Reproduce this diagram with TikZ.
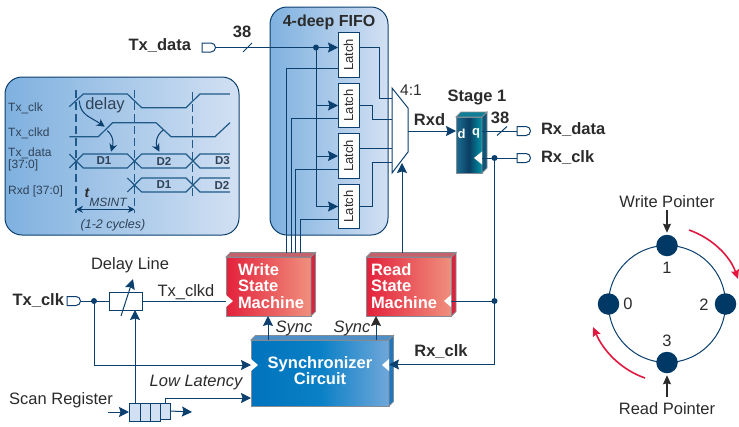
\documentclass[tikz,border=0pt]{standalone}
\usepackage{fontspec}
\setmainfont{Liberation Sans}
\usetikzlibrary{arrows.meta}
\definecolor{navy}{HTML}{0B3F6E}
\definecolor{wave}{HTML}{1F5A88}
\definecolor{ink}{HTML}{2B2B2B}
\definecolor{tink}{HTML}{2E4258}
\definecolor{panelL}{HTML}{7FB1DF}
\definecolor{panelR}{HTML}{D2E0F3}
\definecolor{boxedge}{HTML}{858C94}
\definecolor{fsmL}{HTML}{E3213B}
\definecolor{fsmR}{HTML}{F0907E}
\definecolor{fsmT}{HTML}{C4616A}
\definecolor{fsmS}{HTML}{D8253F}
\definecolor{synL}{HTML}{0073BC}
\definecolor{synM}{HTML}{0A80C6}
\definecolor{synR}{HTML}{70A7DA}
\definecolor{synT}{HTML}{4D8FC8}
\definecolor{synS}{HTML}{1F78BE}
\definecolor{ffL}{HTML}{1B7092}
\definecolor{ffM}{HTML}{0B3E63}
\definecolor{ffR}{HTML}{0093A8}
\definecolor{ffT}{HTML}{0F7F98}
\definecolor{ffS}{HTML}{0F5578}
\definecolor{ringc}{HTML}{003866}
\definecolor{crim}{HTML}{E0183F}
\newcommand{\fs}[1]{\fontsize{#1}{#1}\selectfont}
\tikzset{
  wire/.style={draw=navy,line width=1pt},
  arrw/.style={wire,-{Stealth[length=10pt,width=10pt,inset=1.5pt]}},
  warrw/.style={draw=navy,line width=1pt,{Stealth[length=7pt,width=7pt]}-{Stealth[length=7pt,width=7pt]}},
  txt/.style={inner sep=0pt,outer sep=0pt,text=ink,font=\fs{16.5}},
  btxt/.style={txt,font=\fs{16.5}\bfseries},
  itxt/.style={txt,font=\fs{16.5}\itshape},
  tlabel/.style={inner sep=0pt,text=tink,font=\fs{12},anchor=west},
  dlabel/.style={inner sep=0pt,text=tink,font=\fs{11.5}\bfseries},
  panel/.style={draw=navy,line width=1pt,left color=panelL,right color=panelR,outer sep=0pt,inner sep=0pt},
  latch/.style={draw=navy,line width=1pt,fill=white,minimum width=21pt,minimum height=44.5pt,inner sep=0pt,outer sep=0pt,
     font=\fs{13},text=ink},
  fsm/.style={draw=boxedge,line width=1pt,left color=fsmL,right color=fsmR,minimum width=85pt,minimum height=59pt,
     inner sep=0pt,outer sep=0pt},
  dotn/.style={circle,fill=navy,minimum size=6pt,inner sep=0pt,outer sep=0pt},
  ringdot/.style={circle,fill=ringc,minimum size=21.5pt,inner sep=0pt,outer sep=0pt},
  wave/.style={draw=wave,line width=1.2pt},
  redarr/.style={draw=crim,line width=1.6pt,-{Stealth[length=9pt,width=8pt,inset=1pt]}},
  blkarr/.style={draw=ink,line width=1.1pt,shorten >=2pt,-{Stealth[length=9pt,width=8pt,inset=1pt]}},
  slashl/.style={draw=navy,line width=1pt},
  clkmark/.style={fill=white,draw=none}
}
% a plug-shaped port, with named left and right ends
\newcommand{\port}[3]{%
  \draw[draw=navy,line width=1pt,fill=white] (#2,#3-4.5) -- (#2+9,#3-4.5) arc (90:-90:4.5pt) -- (#2,#3+4.5) -- cycle;
  \coordinate (#1L) at (#2,#3);
  \coordinate (#1R) at (#2+13.5,#3);
}
% top and side faces of a box
\newcommand{\faces}[4]{%
  \fill[#3,draw=boxedge,line width=.8pt] (#1.north west) -- ++(#2,-#2) -- ([shift={(#2,-#2)}]#1.north east) -- (#1.north east) -- cycle;
  \fill[#4,draw=boxedge,line width=.8pt] (#1.north east) -- ++(#2,-#2) -- ([shift={(#2,-#2)}]#1.south east) -- (#1.south east) -- cycle;
}
\begin{document}
\begin{tikzpicture}[x=1pt,y=-1pt]
\useasboundingbox (0,0) rectangle (739,426);

% ---------- timing panel
\node[panel,rounded corners=17pt,minimum width=234pt,minimum height=158pt] (tpanel) at (122,156) {};
\begin{scope}[shift={(0,70)},x=.33333pt,y=-.33333pt]
  \draw[wave,dash pattern=on 8pt off 4pt] (228,60) -- (228,430);
  \draw[wave,dash pattern=on 8pt off 4pt] (404,60) -- (404,430);
  \draw[wave,dash pattern=on 8pt off 4pt] (578,66) -- (578,380);
  \draw[wave] (208,110) -- (250,72) -- (382,72) -- (425,113) -- (558,113) -- (600,72) -- (690,72);
  \draw[wave] (208,200) -- (295,200) -- (338,158) -- (468,158) -- (513,200) -- (645,200) -- (690,158);
  \draw[wave] (208,252) -- (250,294) -- (382,294) -- (425,252) -- (558,252) -- (600,294) -- (690,294);
  \draw[wave] (208,294) -- (250,252) -- (382,252) -- (425,294) -- (558,294) -- (600,252) -- (690,252);
  \draw[wave] (382,324) -- (425,366) -- (558,366) -- (600,324) -- (690,324);
  \draw[wave] (382,366) -- (425,324) -- (558,324) -- (600,366) -- (690,366);
  \draw[draw=navy,line width=1pt,-{Stealth[length=8pt,width=8pt]}] (238,92) .. controls (240,135) and (270,140) .. (314,170);
  \draw[draw=navy,line width=1pt,-{Stealth[length=8pt,width=8pt]}] (322,182) .. controls (342,200) and (340,222) .. (333,245);
  \draw[draw=navy,line width=1pt,-{Stealth[length=8pt,width=8pt]}] (490,180) .. controls (468,195) and (466,222) .. (478,245);
  \coordinate (dimA) at (228,418);
  \coordinate (dimB) at (404,418);
  \draw[warrw] (dimA) -- (dimB);
\end{scope}
\node[tlabel] (l1) at (8,108) {Tx\_clk};
\node[tlabel] (l2) at (8,133) {Tx\_clkd};
\node[tlabel] (l3) at (8,153) {Tx\_data};
\node[tlabel] (l4) at (8,165) {[37:0]};
\node[tlabel] (l5) at (8,191) {Rxd [37:0]};
\node[inner sep=0pt,text=tink,font=\fs{16.5}] (dly) at (105,105.5) {delay};
\node[dlabel] (d1) at (104,161) {D1};
\node[dlabel] (d2) at (164,161) {D2};
\node[dlabel] (d3) at (222.5,161) {D3};
\node[dlabel] (r1) at (164,185) {D1};
\node[dlabel] (r2) at (222,185) {D2};
\node[inner sep=0pt,text=ink,font=\fs{14}\bfseries\itshape] (tt) at (87,193) {t};
\node[inner sep=0pt,text=tink,font=\fs{12}\itshape] (tm) at (108,202) {MSINT};
\node[inner sep=0pt,text=tink,font=\fs{12.5}\itshape] (cyc) at (113,225) {(1-2 cycles)};

% ---------- FIFO
\node[panel,rounded corners=17pt,minimum width=118pt,minimum height=228pt] (fifo) at (329,121) {};
\node[btxt,font=\fs{16}\bfseries] (fifot) at (329,22) {4-deep FIFO};

\port{txd}{202}{47.5}
\node[btxt,anchor=east] (txdl) at (191,46) {Tx\_data};
\node[btxt] (n38a) at (242,32) {38};

\node[latch] (lat1) at (348.5,55) {\rotatebox{90}{Latch}};
\node[latch] (lat2) at (348.5,105.5) {\rotatebox{90}{Latch}};
\node[latch] (lat3) at (348.5,156) {\rotatebox{90}{Latch}};
\node[latch] (lat4) at (348.5,206.5) {\rotatebox{90}{Latch}};

% mux
\draw[wire,fill=white] (392,88) -- (408,108) -- (408,152) -- (392,173) -- cycle;
\coordinate (muxA) at (392,98);
\coordinate (muxB) at (392,119);
\coordinate (muxC) at (392,148);
\coordinate (muxD) at (392,162);
\coordinate (muxOut) at (408,131);
\coordinate (muxSel) at (402,163);
\node[txt,font=\fs{15.5}] (mux41) at (411,90) {4:1};

% state machines
\node[fsm] (wsm) at (268.5,286.5) {};
\faces{wsm}{4.5}{fsmT}{fsmS}
\node[fsm] (rsm) at (409,286.5) {};
\faces{rsm}{4.5}{fsmT}{fsmS}
\node[inner sep=0pt,outer sep=0pt,text=white,font=\fs{16.5}\bfseries,align=left,anchor=west] (wsmt) at (238,286) {\fontsize{16.5}{17}\selectfont Write\\State\\Machine};
\node[inner sep=0pt,outer sep=0pt,text=white,font=\fs{16.5}\bfseries,align=left,anchor=west] (rsmt) at (371,286) {\fontsize{16.5}{17}\selectfont Read\\State\\Machine};

% synchronizer
\node[draw=boxedge,line width=1pt,left color=synL,right color=synR,middle color=synM,minimum width=138pt,minimum height=66pt,inner sep=0pt,outer sep=0pt] (sync) at (320,373) {};
\faces{sync}{4.5}{synT}{synS}
\node[inner sep=0pt,outer sep=0pt,text=white,font=\fs{16.5}\bfseries,align=center] (synct) at (320,370.5) {\fontsize{16.5}{15.7}\selectfont Synchronizer\\Circuit};

% FIFO wiring
\coordinate (datadot) at (316,47.5);
\coordinate (in1) at (lat1.west |- 0,47.5);
\coordinate (in2) at (lat2.west);
\coordinate (in3) at (lat3.west);
\coordinate (in4) at (lat4.west);
\draw[wire] (txdR) -- (datadot);
\draw[wire] (datadot) -- (316,206.5) -- (in4);
\draw[arrw] (datadot) -- (in1);
\draw[arrw] (316,105.5) -- (in2);
\draw[arrw] (316,156) -- (in3);
\draw[arrw] (316,206.5) -- (in4);
\node[dotn] at (datadot) {};
\draw[slashl] (243,52) -- (252,43);

\draw[wire] (lat1.east |- 0,47.5) -- (379,47.5) -- (379,98) -- (muxA);
\draw[wire] (lat2.east) -- (372,105.5) -- (372,119) -- (muxB);
\draw[wire] (lat3.east |- 0,148) -- (muxC);
\draw[wire] (lat4.east) -- (372,206.5) -- (372,162) -- (muxD);

\draw[wire] (lat1.west |- 0,68) -- (286,68) -- (286,252.5);
\draw[wire] (lat2.west |- 0,118) -- (291,118) -- (291,252.5);
\draw[wire] (lat3.west |- 0,169) -- (295.5,169) -- (295.5,252.5);
\draw[wire] (lat4.west |- 0,219) -- (300,219) -- (300,252.5);

% flip-flop
\node[draw=boxedge,line width=1pt,left color=ffL,right color=ffR,middle color=ffM,minimum width=26pt,minimum height=56pt,inner sep=0pt,outer sep=0pt] (ff) at (469,145) {};
\faces{ff}{5}{ffT}{ffS}
\node[inner sep=0pt,text=white,font=\fs{13}\bfseries] (ffd) at (461.5,133.5) {d};
\node[inner sep=0pt,text=white,font=\fs{13}\bfseries] (ffq) at (476,133.5) {q};
\fill[clkmark] (482,151.5) -- (482,164.5) -- (474,158) -- cycle;
\coordinate (ffin) at (ff.west |- muxOut);
\coordinate (ffout) at (ff.east |- muxOut);
\coordinate (ffclk) at (482,158);

\draw[arrw] (muxOut) -- (ffin);
\node[btxt] (rxdl) at (429.5,120) {Rxd};
\node[btxt] (stage) at (477,97) {Stage 1};
\node[btxt] (n38b) at (500,118) {38};
\port{rxdp}{517}{131}
\port{rxcp}{517}{158}
\draw[wire] (ffout) -- (rxdpL);
\draw[wire] (ffclk) -- (rxcpL);
\draw[slashl] (497,135.5) -- (507,126.5);
\node[btxt,anchor=west] (rxdata) at (541,130) {Rx\_data};
\node[btxt,anchor=west] (rxclk) at (541,158) {Rx\_clk};

\coordinate (clkdot) at (494.5,158);
\coordinate (clkdot2) at (494.5,301);
\coordinate (clkcor) at (494.5,364.5);
\coordinate (rsmclk) at (451,301);
\coordinate (syncclk) at (389,364.5);
\draw[wire] (clkdot) -- (clkcor);
\draw[wire] (rsmclk) -- (clkdot2);
\draw[arrw] (clkcor) -- (syncclk);
\node[dotn] at (clkdot) {};
\node[dotn] at (clkdot2) {};
\node[btxt] (rxclkl) at (441,352) {Rx\_clk};

\draw[arrw] (rsm.north -| muxSel) ++(0,-4.5) -- (muxSel);
\draw[arrw] (sync.north -| 268,0) -- (wsm.south -| 268,0);
\draw[wire,-{Stealth[length=10pt,width=10pt,inset=1.5pt,color=ink]}] (sync.north -| 376,0) -- (rsm.south -| 376,0);
\node[itxt] (s1) at (294,328) {Sync};
\node[itxt] (s2) at (352,328) {Sync};

% clock markers
\fill[clkmark] (226,295) -- (226,307) -- (233,301) -- cycle;
\fill[clkmark] (451,295) -- (451,307) -- (444,301) -- cycle;
\fill[clkmark] (251,359) -- (251,371) -- (258,365) -- cycle;
\fill[clkmark] (389,359) -- (389,371) -- (382,365) -- cycle;

% input clock side
\port{txc}{67}{301}
\node[btxt,anchor=east] (txclk) at (64,301) {Tx\_clk};
\node[draw=navy,line width=1pt,fill=white,minimum width=33pt,minimum height=18pt,inner sep=0pt,outer sep=0pt] (dl) at (125.5,301) {};
\coordinate (clkdotL) at (94,301);
\coordinate (syncin1) at (251,365);
\coordinate (syncin2) at (251,398);
\coordinate (wsmin) at (226,301);
\draw[wire] (txcR) -- (dl.west);
\draw[wire] (dl.east) -- (wsmin);
\draw[arrw] (clkdotL) -- (94,365) -- (syncin1);
\node[dotn] at (clkdotL) {};
\draw[arrw] (121,316) -- (133,279);
\node[txt] (dll) at (130,265) {Delay Line};
\node[txt] (tcd) at (186,292) {Tx\_clkd};

% scan register
\node[draw=navy,line width=1pt,fill=panelR,minimum width=31pt,minimum height=18pt,inner sep=0pt,outer sep=0pt] (reg) at (144.5,412) {};
\node[draw=navy,line width=1pt,fill=panelR,minimum width=10pt,minimum height=16pt,inner sep=0pt,outer sep=0pt] (reg2) at (165,411) {};
\draw[wire] (140,403) -- (140,421);
\draw[wire] (150,403) -- (150,421);
\coordinate (regin) at (108,412);
\coordinate (regout) at (192,412);
\draw[arrw] (regin) -- (reg.west);
\draw[arrw] (reg2.east) -- (regout);
\draw[arrw] (135,403) -- (dl.south -| 135,0);
\draw[arrw] (reg2.north) -- (165,398) -- (syncin2);
\node[txt] (scan) at (61,400) {Scan Register};
\node[itxt] (lowl) at (196,383) {Low Latency};

% ---------- pointer ring
\node[draw=navy,line width=1pt,circle,minimum size=117pt,inner sep=0pt,outer sep=0pt] (ring) at (667,304) {};
\node[ringdot] (p1) at (ring.north) {};
\node[ringdot] (p2) at (ring.east) {};
\node[ringdot] (p3) at (ring.south) {};
\node[ringdot] (p0) at (ring.west) {};
\node[txt] (wp) at (667,202) {Write Pointer};
\node[txt] (rp) at (667,409) {Read Pointer};
\draw[blkarr] (667,210) -- (p1);
\draw[blkarr] (667,397) -- (p3);
\node[txt] (n1) at (667,268) {1};
\node[txt] (n0) at (628,304) {0};
\node[txt] (n2) at (704,305) {2};
\node[txt] (n3) at (667,341) {3};
\draw[redarr] (689,230) .. controls (712,238) and (730,256) .. (738,279);
\draw[redarr] (645,378) .. controls (622,370) and (604,352) .. (593,327);
\end{tikzpicture}
\end{document}
